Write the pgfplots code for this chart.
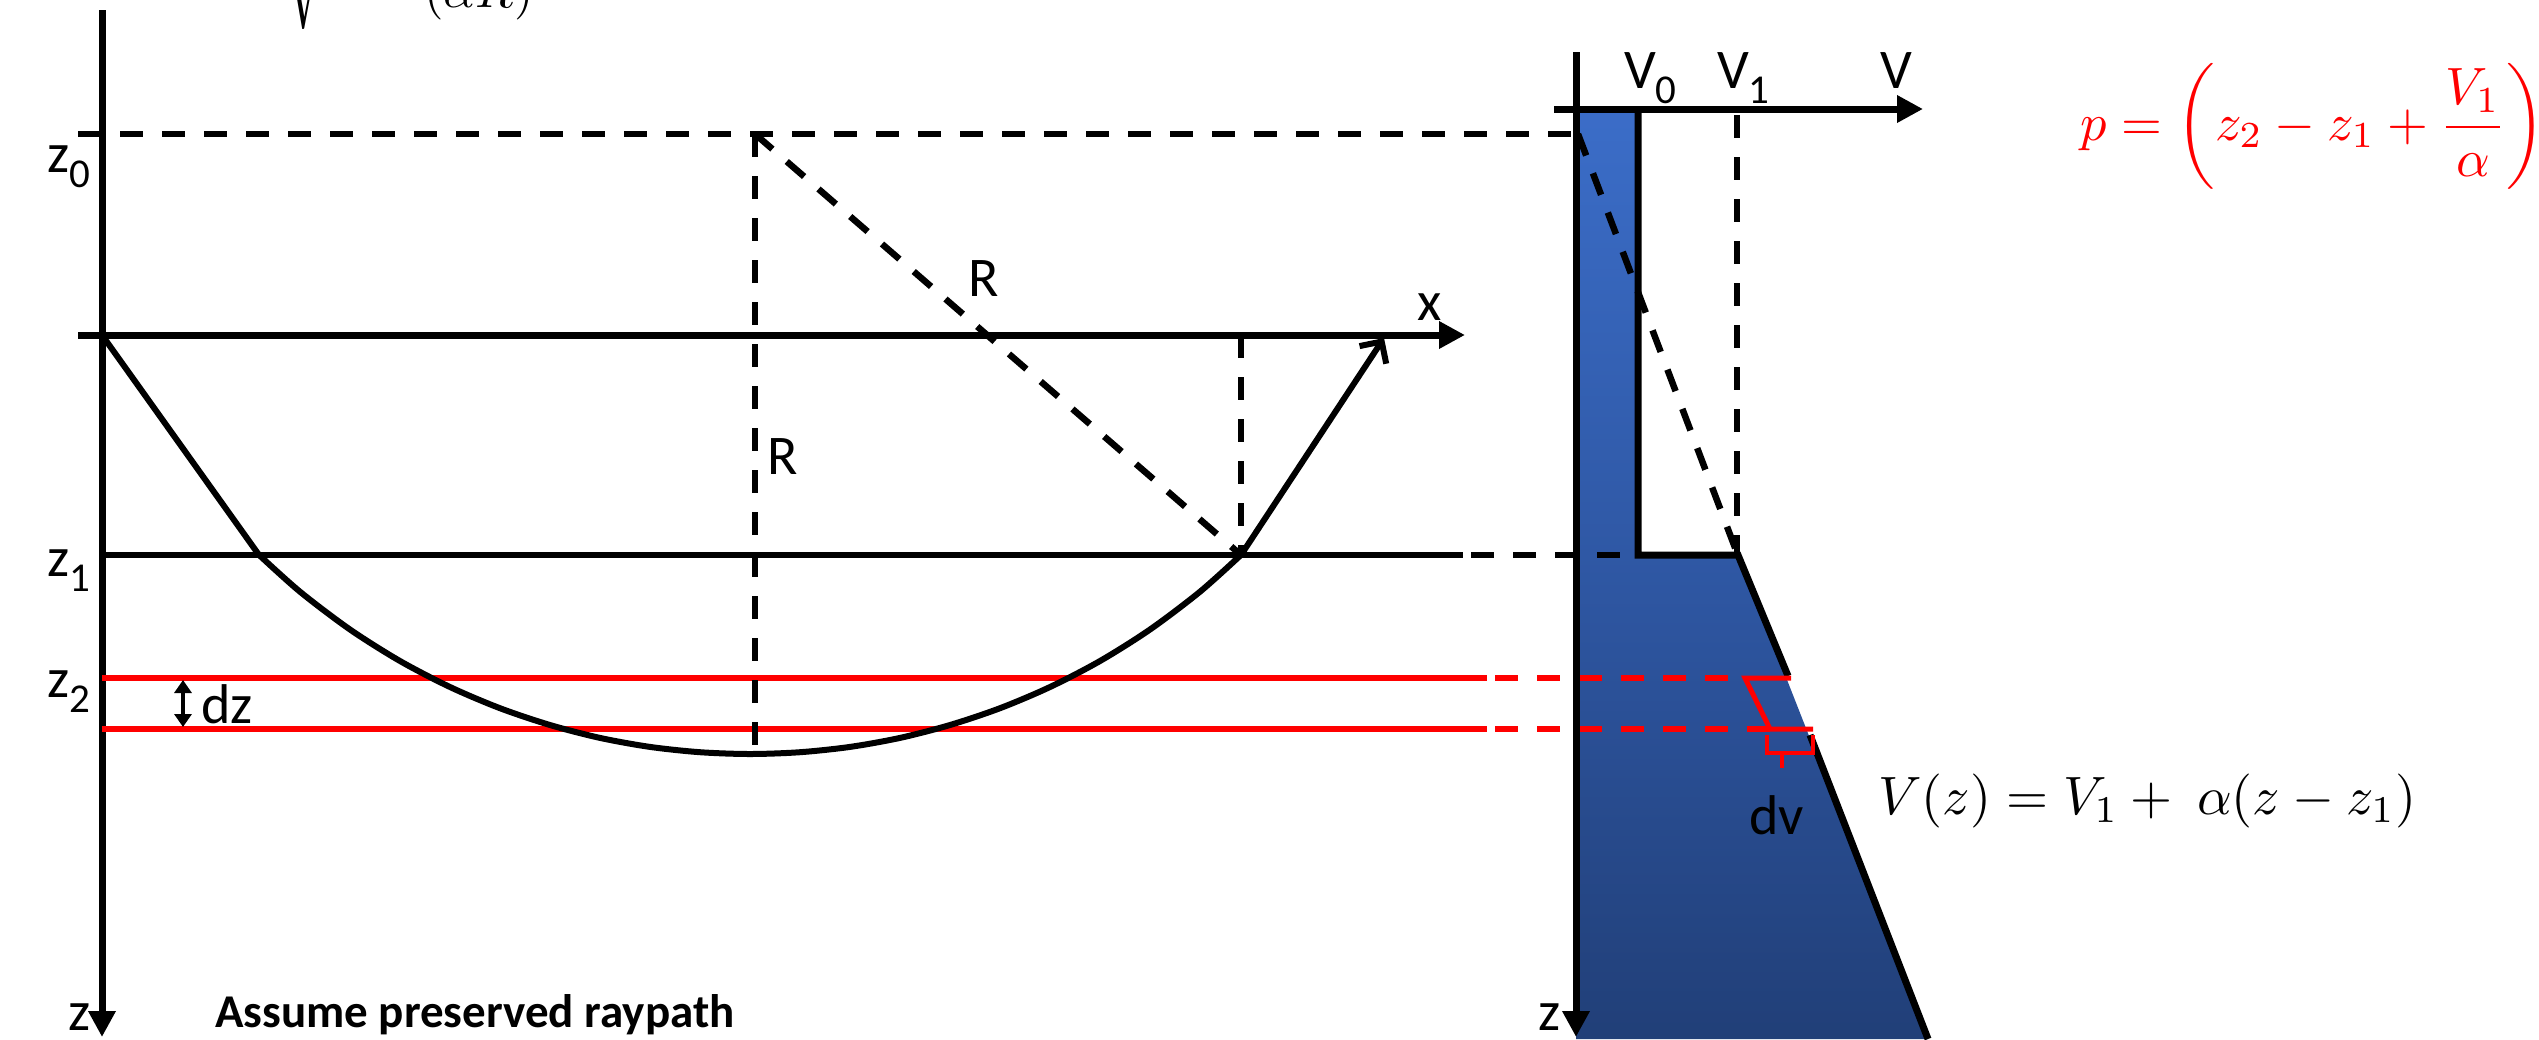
\documentclass[border=0pt]{standalone}
\usepackage{fontspec}
\setmainfont{Carlito}
\usepackage{graphicx}
\usepackage{pgfplots}
\pgfplotsset{compat=1.18}
\usetikzlibrary{arrows.meta}

\definecolor{topblue}{RGB}{59,109,200}
\definecolor{midblue}{RGB}{47,88,165}
\definecolor{botblue}{RGB}{33,63,120}

\newcommand\lbl{\fontsize{56}{60}\selectfont}
\newcommand\sub[1]{\raisebox{-15pt}{\fontsize{41}{41}\selectfont #1}}

\begin{document}
\begin{tikzpicture}
\begin{axis}[
  at={(0pt,0pt)}, anchor=south west,
  width=2539pt, height=1039pt, scale only axis,
  xmin=0, xmax=2539, ymin=0, ymax=1039, y dir=reverse,
  hide axis, clip=false,
  dashed line/.style={line width=6.5pt, dash pattern=on 23pt off 19pt},
  axis arrow/.style={line width=7pt, -{Triangle[length=26pt,width=26pt]}},
]
% velocity profile V(z), shaded
\addplot[draw=none, top color=topblue, bottom color=midblue]
  coordinates {(1576,109)(1639,109)(1639,555)(1576,555)} --cycle;
\addplot[draw=none, top color=midblue, bottom color=botblue]
  coordinates {(1576,555)(1738,555)(1928,1039)(1576,1039)} --cycle;

% ---------------- ray-path panel ----------------
% depth axis and x axis
\addplot[axis arrow] coordinates {(102,10)(102,1037)};
\addplot[axis arrow] coordinates {(78,335)(1465,335)};
% reference level z0 (centre of the ray circle)
\addplot[dashed line] coordinates {(78,134)(1574,134)};
% layer boundary z1
\addplot[line width=6pt] coordinates {(102,555)(1463,555)};
\addplot[dashed line, dash phase=34pt] coordinates {(1463,555)(1638,555)};
% thin layer z2 .. z2+dz
\addplot[red, line width=6pt] coordinates {(102,678)(1487,678)};
\addplot[red, line width=6pt] coordinates {(102,729)(1487,729)};
\addplot[red, dashed line, dash phase=34pt] coordinates {(1487,678)(1745,678)};
\addplot[red, dashed line, dash phase=34pt] coordinates {(1487,729)(1770,729)};
% radius construction
\addplot[dashed line] coordinates {(755,134)(755,754)};
\addplot[dashed line] coordinates {(755,134)(1241,555)};
\addplot[dashed line] coordinates {(1241,335)(1241,555)};
% ray: straight in the top layer, circular arc below z1
\addplot[line width=6pt] coordinates {(102,335)(259,555)};
\addplot[line width=6pt, smooth] coordinates {
  (259,554.9)(300,591.7)(350,629.5)(400,661.0)(450,687.0)(500,708.2)
  (550,725.0)(600,737.9)(650,746.9)(700,752.2)(750,754.0)(800,752.2)
  (850,746.9)(900,737.9)(950,725.0)(1000,708.2)(1050,687.0)(1100,661.0)
  (1150,629.5)(1200,591.7)(1241,554.9)};
\addplot[line width=6pt, -{Straight Barb[length=16pt,width=32pt]}]
  coordinates {(1241,555)(1384,338)};
% dz marker
\addplot[line width=4pt, {Triangle[length=13pt,width=17pt]}-{Triangle[length=13pt,width=17pt]}]
  coordinates {(183,680)(183,727)};

% ---------------- velocity panel ----------------
\addplot[axis arrow] coordinates {(1576,52)(1576,1037)};
\addplot[axis arrow] coordinates {(1554,109)(1923,109)};
\addplot[dashed line] coordinates {(1737,115)(1737,555)};
\addplot[dashed line] coordinates {(1578,134)(1737,553)};
\addplot[line width=7pt] coordinates {(1638,109)(1638,555)(1738,555)(1788,676)};
\addplot[line width=7pt] coordinates {(1810,735)(1928,1039)};
% velocity step across dz
\addplot[red, line width=5pt] coordinates {(1791,678)(1745,678)(1770,729)(1813,729)};
\addplot[red, line width=3.5pt] coordinates {(1767,735)(1767,753)(1813,753)(1813,735)};
\addplot[red, line width=3.5pt] coordinates {(1782,753)(1782,768)};

% ---------------- labels ----------------
\node[anchor=base west, inner sep=0] at (47,172) {\lbl z\sub{0}};
\node[anchor=base west, inner sep=0] at (47,576) {\lbl z\sub{1}};
\node[anchor=base west, inner sep=0] at (47,697) {\lbl z\sub{2}};
\node[anchor=base west, inner sep=0] at (68,1030) {\lbl z};
\node[anchor=base west, inner sep=0] at (1538,1030) {\lbl z};
\node[anchor=base west, inner sep=0] at (1417,320) {\lbl x};
\node[anchor=base west, inner sep=0] at (968,296) {\lbl R};
\node[anchor=base west, inner sep=0] at (767,474) {\lbl R};
\node[anchor=base west, inner sep=0] at (201,723) {\lbl dz};
\node[anchor=base west, inner sep=0] at (1624,88) {\lbl V\sub{0}};
\node[anchor=base west, inner sep=0] at (1717,88) {\lbl V\sub{1}};
\node[anchor=base west, inner sep=0] at (1880,88) {\lbl V};
\node[anchor=base west, inner sep=0] at (1749,834) {\lbl dv};
\node[anchor=base west, inner sep=0] at (215,1027)
  {\fontsize{47}{50}\selectfont\bfseries Assume preserved raypath};
\node[anchor=base west, inner sep=0] at (1878,814)
  {\scalebox{5.4}{$V(z)=V_1+\ \alpha(z-z_1)$}};
\node[anchor=base west, inner sep=0, text=red] at (2080,140)
  {\scalebox{5.25}{$\displaystyle p=\left(z_2-z_1+\frac{V_1}{\alpha}\right)$}};
\node[anchor=south west, inner sep=0] at (100,30)
  {\scalebox{5}{$\displaystyle \cos i_0=\sqrt{1-\frac{V_0^2}{(\alpha R)^2}}$}};
\end{axis}
\pgfresetboundingbox
\useasboundingbox (0pt,0pt) rectangle (2539pt,1039pt);
\end{tikzpicture}
\end{document}
